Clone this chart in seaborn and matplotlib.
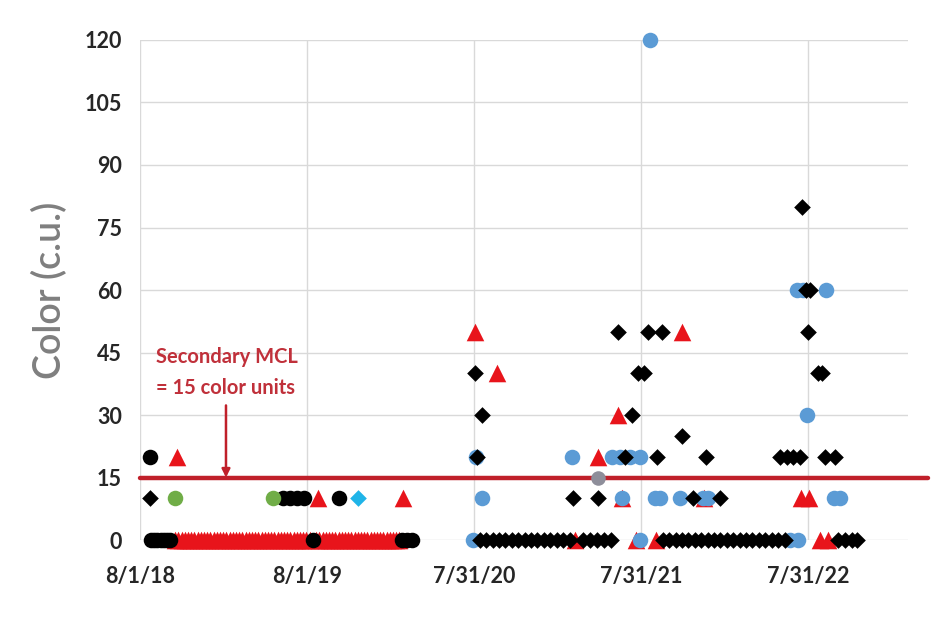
import pandas as pd
import seaborn as sns
import matplotlib.pyplot as plt
import matplotlib.transforms as mtransforms

# -----------------------------------
# Data (sample date, colour units)
# -----------------------------------

black_diamond_dates = [
    "2018-08-23",
    "2020-08-13", "2020-08-27", "2020-09-10", "2020-09-24", "2020-10-08", "2020-10-22",
    "2020-11-05", "2020-11-19", "2020-12-03", "2020-12-17", "2020-12-31", "2021-01-14",
    "2021-01-28", "2021-02-11", "2021-02-25",
    "2021-03-26", "2021-04-11", "2021-04-26", "2021-05-11", "2021-05-27",
    "2020-08-02", "2020-08-18", "2020-08-07",
    "2021-03-05", "2021-04-28",
    "2021-07-11", "2021-06-11", "2021-08-15", "2021-09-15",
    "2021-07-25", "2021-08-07",
    "2021-06-26", "2021-09-04", "2021-12-20",
    "2021-10-29",
    "2021-11-22", "2022-01-20",
    "2021-09-17", "2021-10-01", "2021-10-15", "2021-10-29", "2021-11-12", "2021-11-26",
    "2021-12-10", "2021-12-24", "2022-01-07", "2022-01-21", "2022-02-04", "2022-02-18",
    "2022-03-04", "2022-03-18", "2022-04-01", "2022-04-15", "2022-04-29", "2022-05-13",
    "2022-05-27", "2022-06-10",
    "2022-05-31", "2022-06-15", "2022-06-28", "2022-07-14", "2022-09-06", "2022-09-28",
    "2022-07-18",
    "2022-07-27", "2022-08-05",
    "2022-07-31",
    "2022-08-22", "2022-08-31",
    "2022-10-05", "2022-10-20", "2022-11-04", "2022-11-15",
]
black_diamond_vals = [
    10,
    0, 0, 0, 0, 0, 0, 0, 0, 0, 0, 0, 0, 0, 0, 0,
    0, 0, 0, 0, 0,
    40, 30, 20,
    10, 10,
    30, 50, 50, 50,
    40, 40,
    20, 20, 20,
    25,
    10, 10,
    0, 0, 0, 0, 0, 0, 0, 0, 0, 0, 0, 0, 0, 0, 0, 0, 0, 0, 0, 0,
    20, 20, 20, 20, 20, 20,
    80,
    60, 60,
    50,
    40, 40,
    0, 0, 0, 0,
]

black_circle_dates = [
    "2018-08-23",
    "2018-08-25", "2018-09-01", "2018-09-08", "2018-09-15", "2018-09-22", "2018-09-29",
    "2018-10-06",
    "2019-08-14",
    "2019-06-10", "2019-06-25", "2019-07-10", "2019-07-26", "2019-10-10",
    "2020-02-25", "2020-03-07", "2020-03-18",
]
black_circle_vals = [20, 0, 0, 0, 0, 0, 0, 0, 0, 10, 10, 10, 10, 10, 0, 0, 0]

# weekly zero results, Oct 2018 - Feb 2020 (solid red band)
red_zero_dates = [
    "2018-10-17", "2018-10-24", "2018-10-31", "2018-11-07", "2018-11-14", "2018-11-21",
    "2018-11-28", "2018-12-05", "2018-12-12", "2018-12-19", "2018-12-26", "2019-01-02",
    "2019-01-09", "2019-01-16", "2019-01-23", "2019-01-30", "2019-02-06", "2019-02-13",
    "2019-02-20", "2019-02-27", "2019-03-06", "2019-03-13", "2019-03-20", "2019-03-27",
    "2019-04-03", "2019-04-10", "2019-04-17", "2019-04-24", "2019-05-01", "2019-05-08",
    "2019-05-15", "2019-05-22", "2019-05-29", "2019-06-05", "2019-06-12", "2019-06-19",
    "2019-06-26", "2019-07-03", "2019-07-10", "2019-07-17", "2019-07-24", "2019-07-31",
    "2019-08-07", "2019-08-21", "2019-08-28", "2019-09-04", "2019-09-11", "2019-09-18",
    "2019-09-25", "2019-10-02", "2019-10-09", "2019-10-16", "2019-10-23", "2019-10-30",
    "2019-11-06", "2019-11-13", "2019-11-20", "2019-11-27", "2019-12-04", "2019-12-11",
    "2019-12-18", "2019-12-25", "2020-01-01", "2020-01-08", "2020-01-15", "2020-01-22",
    "2020-01-29", "2020-02-05", "2020-02-12", "2020-02-19",
]

red_triangle_dates = [
    "2018-10-21",
    "2019-08-25", "2020-02-27",
    "2020-08-02", "2020-09-19",
    "2021-03-09",
    "2021-04-28",
    "2021-06-11",
    "2021-10-29",
    "2021-06-20", "2021-12-16",
    "2021-07-20", "2021-09-02",
    "2022-07-16", "2022-08-02",
    "2022-08-26", "2022-09-13",
]
red_triangle_vals = [20, 10, 10, 50, 40, 0, 20, 30, 50, 10, 10, 0, 0, 10, 10, 0, 0]

blue_circle_dates = [
    "2020-07-29", "2020-08-05", "2020-08-18",
    "2021-03-02",
    "2021-05-29", "2021-06-15", "2021-07-07", "2021-07-29",
    "2021-08-20",
    "2021-07-29",
    "2021-06-20", "2021-08-31", "2021-09-11", "2021-10-24", "2021-12-14", "2021-12-25",
    "2022-06-22", "2022-07-09",
    "2022-07-07", "2022-07-20", "2022-09-09",
    "2022-07-29",
    "2022-09-26", "2022-10-09",
]
blue_circle_vals = [
    0, 20, 10,
    20,
    20, 20, 20, 20,
    120,
    0,
    10, 10, 10, 10, 10, 10,
    0, 0,
    60, 60, 60,
    30,
    10, 10,
]

green_circle_dates = ["2018-10-17", "2019-05-19"]
green_circle_vals = [10, 10]

cyan_diamond_dates = ["2019-11-21"]
cyan_diamond_vals = [10]

gray_circle_dates = ["2021-04-28"]
gray_circle_vals = [15]

tick_dates = ["2018-08-01", "2019-08-01", "2020-07-31", "2021-07-31", "2022-07-31"]
tick_labels = ["8/1/18", "8/1/19", "7/31/20", "7/31/21", "7/31/22"]

mcl = 15

# -----------------------------------
# Figure
# -----------------------------------

sns.set_style("white")
plt.rcParams["font.family"] = ["Lato", "DejaVu Sans"]

fig = plt.figure(figsize=(9.51, 6.21), dpi=100)
ax = fig.add_axes([0.1472, 0.1304, 0.8076, 0.8052])

red_dates = red_zero_dates + red_triangle_dates
red_vals = [0] * len(red_zero_dates) + red_triangle_vals

# order matters: later series sit on top
series = [
    (red_dates, red_vals, "#E8141B", "^", 160),
    (blue_circle_dates, blue_circle_vals, "#5B9BD5", "o", 125),
    (black_diamond_dates, black_diamond_vals, "black", "D", 72),
    (black_circle_dates, black_circle_vals, "black", "o", 125),
    (green_circle_dates, green_circle_vals, "#70AD47", "o", 125),
    (cyan_diamond_dates, cyan_diamond_vals, "#1FB4E8", "D", 72),
    (gray_circle_dates, gray_circle_vals, "#8E8E9A", "o", 110),
]

for dates, vals, color, marker, size in series:
    df = pd.DataFrame({"date": pd.to_datetime(dates), "color": vals})
    sns.scatterplot(data=df, x="date", y="color", color=color, marker=marker,
                    s=size, linewidth=0, ax=ax, clip_on=False, zorder=3)

# secondary MCL line, runs a little past the plot
trans = mtransforms.blended_transform_factory(ax.transAxes, ax.transData)
ax.plot([0, 1.026], [mcl, mcl], color="#C0202A", lw=3.2, transform=trans,
        clip_on=False, zorder=2.5)

ax.text(pd.Timestamp("2018-09-05"), 44, "Secondary MCL", color="#C0303A",
        fontsize=14.5, fontweight="bold", va="center", ha="left")
ax.text(pd.Timestamp("2018-09-05"), 36.5, "= 15 color units", color="#C0303A",
        fontsize=14.5, fontweight="bold", va="center", ha="left")
ax.annotate("", xy=(pd.Timestamp("2019-02-05"), mcl),
            xytext=(pd.Timestamp("2019-02-05"), 32.3),
            arrowprops=dict(arrowstyle="-|>", color="#C0202A", lw=1.8,
                            mutation_scale=12, shrinkA=0, shrinkB=0))

ax.set_xlim(pd.Timestamp("2018-08-01"), pd.Timestamp("2023-03-07"))
ax.set_ylim(0, 120)
ax.set_yticks(range(0, 121, 15))
ax.set_xticks(pd.to_datetime(tick_dates))
ax.set_xticklabels(tick_labels)

ax.grid(True, color="#D9D9D9", lw=1)
ax.set_axisbelow(True)
for sp in ax.spines.values():
    sp.set_visible(False)

ax.tick_params(axis="y", length=0, pad=13, labelsize=15.5, labelcolor="#262626")
ax.tick_params(axis="x", length=0, pad=19, labelsize=15.5, labelcolor="#262626")
for lbl in ax.get_xticklabels() + ax.get_yticklabels():
    lbl.set_fontweight("bold")

ax.set_xlabel("")
ax.set_ylabel("Color (c.u.)", fontsize=27, color="#7F7F7F", fontweight="semibold",
              labelpad=12)

fig.savefig("out.png", dpi=100)
